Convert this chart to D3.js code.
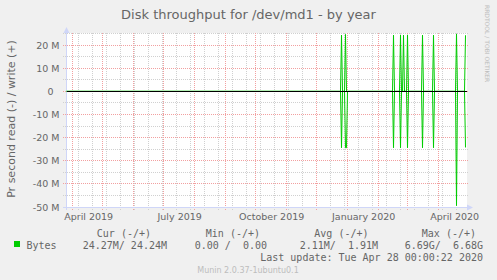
<!DOCTYPE html>
<html>
<head>
<meta charset="utf-8">
<title>Disk throughput for /dev/md1 - by year</title>
<script src="https://d3js.org/d3.v7.min.js"></script>
<style>
    body { margin: 0; background: #f0f0f0; }
    svg text { font-family: "DejaVu Sans", sans-serif; fill: #666; }
    svg text.mono { font-family: "DejaVu Sans Mono", monospace; white-space: pre; }
</style>
</head>
<body>
<script type="text/javascript">
    const w = 497;
    const h = 280;

    // daily averages; every day not listed here is 0
    const spikeDays = ['2019-12-26', '2019-12-30', '2019-12-31', '2020-02-16', '2020-02-23', '2020-02-26',
        '2020-03-01', '2020-03-16', '2020-03-27', '2020-04-19', '2020-04-28'];
    const writeM = [24.3, 24.6, 0, 24.3, 24.4, 24.3, 24.4, 24.3, 24.3, 24.8, 24.24];
    const readM = [24.4, 24.4, 24.4, 24.4, 24.4, 0, 24.4, 24.4, 24.4, 49.4, 24.27];
    const firstDay = '2019-03-26';
    const lastDay = '2020-04-28';

    const yTicks = [-50, -40, -30, -20, -10, 0, 10, 20];
    const monthLabels = ['2019-04-01', '2019-07-01', '2019-10-01', '2020-01-01', '2020-04-01'];

    const legendHeads = ['Cur (-/+)', 'Min (-/+)', 'Avg (-/+)', 'Max (-/+)'];
    const legendVals = ['24.27M/ 24.24M', '0.00 /  0.00', '2.11M/  1.91M', '6.69G/  6.68G'];
    const seriesName = 'Bytes';
    const lastUpdate = 'Last update: Tue Apr 28 00:00:22 2020';

    const green = '#00cc00';
    const axisCol = '#cfd6f8';

    const svg = d3.select('body').append('svg').attr('width', w).attr('height', h);

    const xScale = d3.scaleUtc()
        .domain([new Date(Date.UTC(2019, 2, 26, 12)), new Date(Date.UTC(2020, 3, 29, 12))])
        .range([67, 467]);

    const yScale = d3.scaleLinear()
        .domain([-50e6, 25e6])
        .range([207, 33.5]);

    // plot canvas
    svg.append('rect')
        .attr('x', 67).attr('y', 33)
        .attr('width', 400).attr('height', 175)
        .attr('fill', '#fff');

    const grid = svg.append('g').attr('shape-rendering', 'crispEdges');
    const px = v => Math.floor(v) + 0.5;

    // minor grid: every other Sunday, every 5 M
    const sundays = d3.utcSunday.range(...xScale.domain()).filter((d, i) => i % 2 === 1);
    grid.selectAll('line.vmin')
        .data(sundays)
        .enter()
        .append('line')
        .attr('x1', d => px(xScale(d))).attr('x2', d => px(xScale(d)))
        .attr('y1', 33).attr('y2', 210)
        .attr('stroke', '#d0d0d0').attr('stroke-dasharray', '1,1');

    grid.selectAll('line.hmin')
        .data(d3.range(-50, 26, 5))
        .enter()
        .append('line')
        .attr('x1', 63).attr('x2', 469)
        .attr('y1', d => px(yScale(d * 1e6))).attr('y2', d => px(yScale(d * 1e6)))
        .attr('stroke', '#d0d0d0').attr('stroke-dasharray', '1,1');

    // major grid: months, every 10 M
    grid.selectAll('line.vmaj')
        .data(d3.utcMonth.range(...xScale.domain()))
        .enter()
        .append('line')
        .attr('x1', d => px(xScale(d))).attr('x2', d => px(xScale(d)))
        .attr('y1', 33).attr('y2', 210)
        .attr('stroke', '#f2a0a0').attr('stroke-dasharray', '1,1');

    grid.selectAll('line.hmaj')
        .data(yTicks)
        .enter()
        .append('line')
        .attr('x1', 63).attr('x2', 469)
        .attr('y1', d => px(yScale(d * 1e6))).attr('y2', d => px(yScale(d * 1e6)))
        .attr('stroke', '#f2a0a0').attr('stroke-dasharray', '1,1');

    // axes lines + arrows
    svg.append('line').attr('x1', 66.5).attr('x2', 66.5).attr('y1', 30).attr('y2', 210)
        .attr('stroke', axisCol);
    svg.append('line').attr('x1', 63).attr('x2', 470).attr('y1', 207.5).attr('y2', 207.5)
        .attr('stroke', axisCol);
    svg.append('path').attr('d', 'M63.5,33L66.5,27L69.5,33Z').attr('fill', axisCol);
    svg.append('path').attr('d', 'M467,204.5L473,207.5L467,210.5Z').attr('fill', axisCol);

    // series: a value for every day, zero unless listed
    const days = d3.utcDay.range(new Date(firstDay), d3.utcDay.offset(new Date(lastDay), 1));
    const writeBy = new Map(spikeDays.map((d, i) => [d, writeM[i]]));
    const readBy = new Map(spikeDays.map((d, i) => [d, readM[i]]));
    const fmtDay = d3.utcFormat('%Y-%m-%d');
    const writes = days.map(d => ({date: d, v: (writeBy.get(fmtDay(d)) || 0) * 1e6}));
    const reads = days.map(d => ({date: d, v: -(readBy.get(fmtDay(d)) || 0) * 1e6}));

    const line = d3.line()
        .x(d => xScale(d.date))
        .y(d => yScale(d.v));

    svg.selectAll('path.series')
        .data([reads, writes])
        .enter()
        .append('path')
        .attr('d', line)
        .attr('fill', 'none')
        .attr('stroke', green)
        .attr('stroke-width', 1);

    // zero rule
    svg.append('line')
        .attr('x1', 67).attr('x2', 467)
        .attr('y1', px(yScale(0))).attr('y2', px(yScale(0)))
        .attr('stroke', '#000').attr('shape-rendering', 'crispEdges');

    // y labels
    const yAxis = d3.axisLeft(yScale)
        .tickValues(yTicks.map(v => v * 1e6))
        .tickFormat(v => v === 0 ? '0  ' : (v / 1e6) + ' M')
        .tickSize(0)
        .tickPadding(7);
    const gy = svg.append('g').attr('transform', 'translate(66.5,0)').call(yAxis);
    gy.select('.domain').remove();
    gy.selectAll('text')
        .attr('font-family', null)
        .style('font-size', '9.5px')
        .style('white-space', 'pre')
        .attr('fill', '#666');

    // x labels, rrdtool centres them half a month after the month line
    const xAxis = d3.axisBottom(xScale)
        .tickValues(monthLabels.map(d => d3.utcHour.offset(new Date(d), 376)))
        .tickFormat(d3.utcFormat('%B %Y'))
        .tickSize(0)
        .tickPadding(6);
    const gx = svg.append('g').attr('transform', 'translate(0,207.5)').call(xAxis);
    gx.select('.domain').remove();
    gx.selectAll('text')
        .style('font-size', '9.5px')
        .attr('fill', '#666');

    // title + y title
    svg.append('text')
        .attr('x', 248.5).attr('y', 18.5)
        .attr('text-anchor', 'middle')
        .style('font-size', '13px')
        .text('Disk throughput for /dev/md1 - by year');

    svg.append('text')
        .attr('transform', 'translate(15,119) rotate(-90)')
        .attr('text-anchor', 'middle')
        .style('font-size', '11px')
        .text('Pr second read (-) / write (+)');

    svg.append('text')
        .attr('transform', 'translate(484.5,5) rotate(90)')
        .style('font-size', '6px')
        .style('fill', '#bcbcbc')
        .text('RRDTOOL / TOBI OETIKER');

    // legend
    const headEnd = [151, 260, 368.5, 476];
    const valEnd = [167, 267, 378, 483];

    svg.selectAll('text.head')
        .data(legendHeads)
        .enter()
        .append('text')
        .attr('class', 'mono')
        .attr('x', (d, i) => headEnd[i])
        .attr('y', 236.5)
        .attr('text-anchor', 'end')
        .style('font-size', '10px')
        .text(d => d);

    svg.append('rect')
        .attr('x', 14).attr('y', 241)
        .attr('width', 6).attr('height', 6)
        .attr('fill', green);

    svg.append('text')
        .attr('class', 'mono')
        .attr('x', 26.5).attr('y', 248.5)
        .style('font-size', '10px')
        .text(seriesName);

    svg.selectAll('text.val')
        .data(legendVals)
        .enter()
        .append('text')
        .attr('class', 'mono')
        .attr('x', (d, i) => valEnd[i])
        .attr('y', 248.5)
        .attr('text-anchor', 'end')
        .style('font-size', '10px')
        .text(d => d);

    svg.append('text')
        .attr('class', 'mono')
        .attr('x', 483).attr('y', 260.5)
        .attr('text-anchor', 'end')
        .style('font-size', '10px')
        .text(lastUpdate);

    svg.append('text')
        .attr('x', 248).attr('y', 272.5)
        .attr('text-anchor', 'middle')
        .style('font-size', '8px')
        .style('fill', '#bdbdbd')
        .text('Munin 2.0.37-1ubuntu0.1');
</script>
</body>
</html>
